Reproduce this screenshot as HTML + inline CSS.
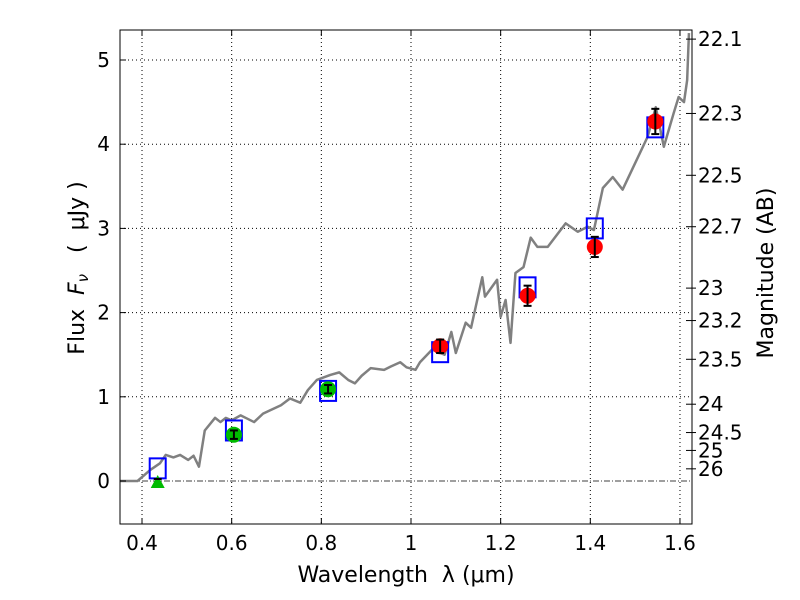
<!DOCTYPE html>
<html><head><meta charset="utf-8"><style>body{margin:0;background:#fff}svg{display:block}text{font-family:"DejaVu Sans","Liberation Sans",sans-serif;white-space:pre}</style></head>
<body>
<svg id="c" width="800" height="600"></svg>
<script>
const specWave=[0.35,0.39,0.418,0.44,0.453,0.47,0.485,0.503,0.515,0.527,0.54,0.563,0.575,0.587,0.6,0.62,0.635,0.65,0.67,0.686,0.71,0.73,0.753,0.77,0.79,0.82,0.84,0.86,0.875,0.89,0.91,0.94,0.955,0.976,0.99,1.01,1.02,1.047,1.075,1.09,1.1,1.122,1.134,1.159,1.165,1.192,1.2,1.211,1.222,1.233,1.251,1.267,1.282,1.305,1.345,1.372,1.394,1.408,1.428,1.45,1.472,1.528,1.546,1.564,1.586,1.597,1.609,1.616,1.62];
const specFlux=[0,0,0.13,0.21,0.31,0.28,0.31,0.25,0.3,0.17,0.6,0.75,0.7,0.75,0.72,0.78,0.74,0.70,0.8,0.84,0.9,0.98,0.93,1.08,1.2,1.26,1.29,1.2,1.16,1.25,1.34,1.32,1.36,1.41,1.35,1.32,1.41,1.56,1.5,1.77,1.52,1.88,1.82,2.42,2.19,2.39,1.95,2.15,1.64,2.47,2.54,2.89,2.78,2.78,3.06,2.96,3.02,2.98,3.48,3.61,3.46,4.09,4.44,3.97,4.37,4.56,4.5,4.76,5.32];
const modelWave=[0.435,0.605,0.815,1.065,1.26,1.41,1.545];
const modelFlux=[0.15,0.6,1.07,1.53,2.3,3.0,4.2];
const greenWave=[0.605,0.815];
const greenFlux=[0.55,1.09];
const greenErr=[0.05,0.05];
const limitWave=[0.435];
const limitFlux=[0];
const redWave=[1.065,1.26,1.41,1.545];
const redFlux=[1.6,2.2,2.78,4.27];
const redErr=[0.08,0.12,0.12,0.15];
const xTicks=[0.4,0.6,0.8,1.0,1.2,1.4,1.6];
const xLabels=["0.4","0.6","0.8","1","1.2","1.4","1.6"];
const yTicks=[0,1,2,3,4,5];
const magTicks=[22.1,22.3,22.5,22.7,23,23.2,23.5,24,24.5,25,26];

const L=120,R=692,T=30,B=524;
const X=v=>119.6+(v-0.35)*448.3;
const Y=v=>481-v*84.2;
const svg=document.getElementById('c');
const NS='http://www.w3.org/2000/svg';
function mk(t,a,p){const e=document.createElementNS(NS,t);for(const k in a)e.setAttribute(k,a[k]);(p||svg).appendChild(e);return e;}

xTicks.forEach(v=>{const e=mk('line',{x1:X(v),x2:X(v),y1:T,y2:B,stroke:'#000','stroke-width':1,'stroke-dasharray':'1,3'});

});
yTicks.forEach(v=>{if(v===0)return;const e=mk('line',{x1:L,x2:R,y1:Y(v),y2:Y(v),stroke:'#000','stroke-width':1,'stroke-dasharray':'1,3'});

});
const zl=mk('line',{x1:L,x2:R,y1:Y(0),y2:Y(0),stroke:'#000','stroke-width':0.8,'stroke-dasharray':'6,2,1,2'});



const sp=mk('polyline',{points:specWave.map((w,i)=>X(w)+','+Y(specFlux[i])).join(' '),fill:'none',stroke:'#808080','stroke-width':2.5,'stroke-linejoin':'round'});



modelWave.forEach((w,i)=>{const s=mk('rect',{x:X(w)-8,y:Y(modelFlux[i])-10,width:16,height:20,fill:'none',stroke:'#0000ff','stroke-width':2});

});

function pt(w,f,e,col,name){
 const g=mk('g',{});
 
 
 mk('circle',{cx:X(w),cy:Y(f),r:8,fill:col},g);
 const y1=Y(f+e),y2=Y(f-e),x=X(w);
 mk('line',{x1:x,x2:x,y1:y1,y2:y2,stroke:'#000','stroke-width':2},g);
 mk('line',{x1:x-4,x2:x+4,y1:y1,y2:y1,stroke:'#000','stroke-width':2},g);
 mk('line',{x1:x-4,x2:x+4,y1:y2,y2:y2,stroke:'#000','stroke-width':2},g);
}
greenWave.forEach((w,i)=>pt(w,greenFlux[i],greenErr[i],'#00bb00','green-photometry-point'));
redWave.forEach((w,i)=>pt(w,redFlux[i],redErr[i],'#ff0000','red-photometry-point'));
limitWave.forEach((w,i)=>{const x=X(w),y=Y(limitFlux[i]);
 const t=mk('polygon',{points:`${x-7},${y+7} ${x+7},${y+7} ${x},${y-6}`,fill:'#00bb00'});
 
 
 const b=mk('line',{x1:x-4,x2:x+4,y1:y-2,y2:y-2,stroke:'#000','stroke-width':2});
 
 });

const fr=mk('rect',{x:L,y:T,width:R-L,height:B-T,fill:'none',stroke:'#000','stroke-width':1});



xTicks.forEach((v,i)=>{mk('line',{x1:X(v),x2:X(v),y1:B,y2:B-6,stroke:'#000'});mk('line',{x1:X(v),x2:X(v),y1:T,y2:T+6,stroke:'#000'});
 const t=mk('text',{x:X(v),y:B+26,'font-size':20,'text-anchor':'middle'});t.textContent=xLabels[i];
 
 });
yTicks.forEach(v=>{mk('line',{x1:L,x2:L+6,y1:Y(v),y2:Y(v),stroke:'#000'});
 const t=mk('text',{x:L-10,y:Y(v)+7,'font-size':20,'text-anchor':'end'});t.textContent=v;
 
 });
magTicks.forEach(m=>{const f=Math.pow(10,(23.9-m)/2.5);const y=Y(f);
 mk('line',{x1:R-6,x2:R+4,y1:y,y2:y,stroke:'#000'});
 const t=mk('text',{x:R+6,y:y+7,'font-size':20});t.textContent=m;
 
 });

const xt=mk('text',{x:406,y:582,'font-size':22,'text-anchor':'middle'});xt.textContent='Wavelength  λ (μm)';


const yt=mk('text',{x:84,y:268,'font-size':22,'text-anchor':'middle',transform:'rotate(-90 84 268)'});yt.innerHTML='Flux  <tspan font-style="italic">F</tspan><tspan font-size="15" font-style="italic" dy="4">ν</tspan><tspan dy="-4">   (  μJy )</tspan>';


const rt=mk('text',{x:773,y:273,'font-size':22,'text-anchor':'middle',transform:'rotate(-90 773 273)'});rt.textContent='Magnitude (AB)';


</script>
</body></html>
